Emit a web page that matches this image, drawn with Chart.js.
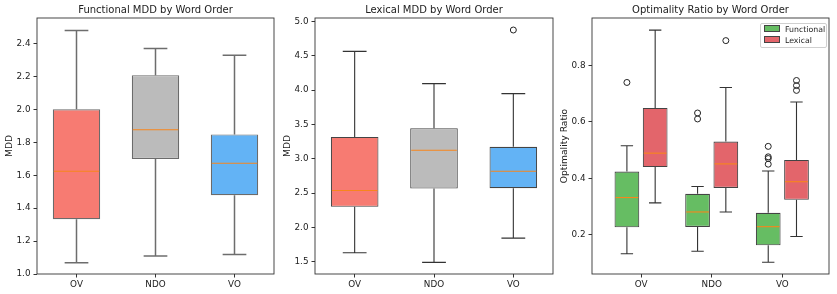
<!DOCTYPE html>
<html>
<head>
<meta charset="utf-8">
<script src="https://cdn.jsdelivr.net/npm/chart.js@4.4.1/dist/chart.umd.min.js"></script>
<style>
  body { margin: 0; background: #fff; width: 837px; height: 294px; position: relative; overflow: hidden; font-family: 'DejaVu Sans', sans-serif; }
  canvas { position: absolute; top: 0; }
  .legend { position: absolute; left: 760px; top: 23px; width: 62px; height: 21px; padding: 1px 0 1px 3px; border: 1px solid #d0d0d0; border-radius: 2px; background: rgba(255,255,255,0.85); font-size: 7.8px; color: #222; }
  .legend div { height: 10.5px; line-height: 10.5px; white-space: nowrap; }
  .legend span.sw { display: inline-block; width: 14px; height: 5px; border: 1px solid #444; margin-right: 5px; vertical-align: 0px; }
</style>
</head>
<body>
<canvas id="fnChart"></canvas>
<canvas id="lexChart"></canvas>
<canvas id="optChart"></canvas>
<div class="legend">
  <div><span class="sw" style="background:#66bd63"></span>Functional</div>
  <div><span class="sw" style="background:#e3656b"></span>Lexical</div>
</div>
<script>
const wordOrders = ['OV', 'NDO', 'VO'];

// Functional MDD
const funcLow = [1.068, 1.109, 1.119];
const funcQ1 = [1.333, 1.699, 1.479];
const funcMed = [1.624, 1.876, 1.673];
const funcQ3 = [2.0, 2.208, 1.848];
const funcHigh = [2.479, 2.37, 2.329];

// Lexical MDD
const lexLow = [1.631, 1.49, 1.843];
const lexQ1 = [2.30, 2.566, 2.571];
const lexMed = [2.537, 3.124, 2.818];
const lexQ3 = [3.318, 3.444, 3.173];
const lexHigh = [4.564, 4.094, 3.948];
const lexOutliers = [[], [], [4.875]];

// Optimality ratio
const optFuncLow = [0.133, 0.142, 0.103];
const optFuncQ1 = [0.227, 0.228, 0.163];
const optFuncMed = [0.332, 0.281, 0.229];
const optFuncQ3 = [0.424, 0.345, 0.278];
const optFuncHigh = [0.515, 0.371, 0.426];
const optFuncOutliers = [[0.739], [0.61, 0.631], [0.45, 0.47, 0.476, 0.513]];
const optLexLow = [0.313, 0.281, 0.194];
const optLexQ1 = [0.44, 0.366, 0.324];
const optLexMed = [0.489, 0.451, 0.388];
const optLexQ3 = [0.649, 0.53, 0.465];
const optLexHigh = [0.924, 0.721, 0.67];
const optLexOutliers = [[], [0.887], [0.711, 0.728, 0.746]];

const orderColors = ['#f77b72', '#bbbbbb', '#63b3f5'];
const Y_AXIS_W = 37;

// whiskers under the boxes, medians + frame on top
function boxLayer(sets, whiskColor, whiskWidth) {
  return {
    id: 'boxLayer',
    beforeDatasetsDraw(chart) {
      const ctx = chart.ctx, y = chart.scales.y;
      ctx.save();
      ctx.strokeStyle = whiskColor;
      ctx.lineWidth = whiskWidth;
      sets.forEach(s => {
        chart.getDatasetMeta(s.index).data.forEach((bar, i) => {
          const { x, width } = bar.getProps(['x', 'width'], true);
          const lo = y.getPixelForValue(s.low[i]), hi = y.getPixelForValue(s.high[i]);
          const q1 = y.getPixelForValue(s.q1[i]), q3 = y.getPixelForValue(s.q3[i]);
          ctx.beginPath();
          ctx.moveTo(x, q3); ctx.lineTo(x, hi);
          ctx.moveTo(x - width / 4, hi); ctx.lineTo(x + width / 4, hi);
          ctx.moveTo(x, q1); ctx.lineTo(x, lo);
          ctx.moveTo(x - width / 4, lo); ctx.lineTo(x + width / 4, lo);
          ctx.stroke();
        });
      });
      ctx.restore();
    },
    afterDatasetsDraw(chart) {
      const ctx = chart.ctx, y = chart.scales.y;
      ctx.save();
      ctx.strokeStyle = '#f7861c';
      ctx.lineWidth = 1.1;
      sets.forEach(s => {
        chart.getDatasetMeta(s.index).data.forEach((bar, i) => {
          const { x, width } = bar.getProps(['x', 'width'], true);
          const m = y.getPixelForValue(s.med[i]);
          ctx.beginPath();
          ctx.moveTo(x - width / 2 + 1, m); ctx.lineTo(x + width / 2 - 1, m);
          ctx.stroke();
        });
      });
      const a = chart.chartArea;
      ctx.strokeStyle = '#333';
      ctx.lineWidth = 0.9;
      ctx.strokeRect(a.left, a.top, a.right - a.left, a.bottom - a.top);
      ctx.restore();
    }
  };
}

function boxData(pos, q1, q3) {
  return pos.map((p, i) => ({ x: p, y: [q1[i], q3[i]] }));
}

function outlierData(pos, outs) {
  const pts = [];
  outs.forEach((list, i) => list.forEach(v => pts.push({ x: pos[i], y: v })));
  return pts;
}

function outlierSet(pos, outs) {
  return {
    type: 'line', showLine: false, data: outlierData(pos, outs),
    pointRadius: 3, pointBorderWidth: 1, pointBorderColor: '#222', pointBackgroundColor: 'rgba(0,0,0,0)'
  };
}

function makePanel(id, left, right, cfg) {
  const canvas = document.getElementById(id);
  canvas.width = Y_AXIS_W + (right - left) + 2;
  canvas.height = 294;
  canvas.style.left = (left - Y_AXIS_W) + 'px';
  return new Chart(canvas, {
    type: 'bar',
    data: { datasets: cfg.datasets },
    options: {
      responsive: false,
      animation: false,
      devicePixelRatio: 1,
      events: [],
      layout: { padding: { left: 0, right: 2, top: 0, bottom: 0 }, autoPadding: false },
      plugins: {
        legend: { display: false },
        tooltip: { enabled: false },
        title: {
          display: true, text: cfg.title, fullSize: false, color: '#222',
          font: { family: 'DejaVu Sans', size: 10, weight: 'normal', lineHeight: 1 },
          padding: { top: 5, bottom: 3 }
        }
      },
      scales: {
        x: {
          type: 'linear', min: cfg.xMin, max: cfg.xMax, offset: false,
          afterBuildTicks: s => { s.ticks = wordOrders.map((_, i) => ({ value: i + 1 })); },
          afterFit: s => { s.height = 20; s.paddingLeft = 0; s.paddingRight = 0; },
          ticks: {
            callback: v => wordOrders[v - 1], color: '#222', padding: 2, maxRotation: 0,
            font: { family: 'DejaVu Sans', size: 8.8 }
          },
          grid: { display: true, offset: false, drawOnChartArea: false, drawTicks: true, tickLength: 3.5, color: '#333' },
          border: { display: false }
        },
        y: {
          min: cfg.yMin, max: cfg.yMax,
          afterFit: s => { s.width = Y_AXIS_W; s.paddingTop = 0; s.paddingBottom = 0; },
          ticks: {
            stepSize: cfg.step, includeBounds: false, callback: v => v.toFixed(1), color: '#222', padding: 3,
            font: { family: 'DejaVu Sans', size: 8.8 }
          },
          title: {
            display: true, text: cfg.yLabel, color: '#222', padding: { top: 4, bottom: 0 },
            font: { family: 'DejaVu Sans', size: 9.2 }
          },
          grid: { display: true, drawOnChartArea: false, drawTicks: true, tickLength: 3.5, color: '#333' },
          border: { display: false }
        }
      }
    },
    plugins: [boxLayer(cfg.sets, cfg.whiskColor, cfg.whiskWidth)]
  });
}

const centers = [1, 2, 3];
const funcPos = [0.8, 1.8, 2.8];
const lexPos = [1.2, 2.2, 3.2];

makePanel('fnChart', 37, 274, {
  title: 'Functional MDD by Word Order', yLabel: 'MDD',
  xMin: 0.5, xMax: 3.5, yMin: 1.0, yMax: 2.555, step: 0.2,
  whiskColor: 'rgba(60,60,60,0.75)', whiskWidth: 1.5,
  datasets: [{
    data: boxData(centers, funcQ1, funcQ3), backgroundColor: orderColors,
    borderColor: 'rgba(70,70,70,0.8)', borderWidth: 1.2, borderSkipped: false,
    barPercentage: 0.6, categoryPercentage: 1, grouped: false
  }],
  sets: [{ index: 0, low: funcLow, q1: funcQ1, med: funcMed, q3: funcQ3, high: funcHigh }]
});

makePanel('lexChart', 315, 553, {
  title: 'Lexical MDD by Word Order', yLabel: 'MDD',
  xMin: 0.5, xMax: 3.5, yMin: 1.321, yMax: 5.05, step: 0.5,
  whiskColor: '#333', whiskWidth: 1.1,
  datasets: [{
    data: boxData(centers, lexQ1, lexQ3), backgroundColor: orderColors,
    borderColor: '#444', borderWidth: 1.1, borderSkipped: false,
    barPercentage: 0.6, categoryPercentage: 1, grouped: false
  }, outlierSet(centers, lexOutliers)],
  sets: [{ index: 0, low: lexLow, q1: lexQ1, med: lexMed, q3: lexQ3, high: lexHigh }]
});

makePanel('optChart', 592, 829, {
  title: 'Optimality Ratio by Word Order', yLabel: 'Optimality Ratio',
  xMin: 0.306, xMax: 3.66, yMin: 0.0616, yMax: 0.967, step: 0.2,
  whiskColor: '#333', whiskWidth: 1.1,
  datasets: [{
    data: boxData(funcPos, optFuncQ1, optFuncQ3), backgroundColor: '#66bd63',
    borderColor: '#444', borderWidth: 1.1, borderSkipped: false,
    barPercentage: 0.875, categoryPercentage: 1, grouped: false
  }, {
    data: boxData(lexPos, optLexQ1, optLexQ3), backgroundColor: '#e3656b',
    borderColor: '#444', borderWidth: 1.1, borderSkipped: false,
    barPercentage: 0.875, categoryPercentage: 1, grouped: false
  }, outlierSet(funcPos, optFuncOutliers), outlierSet(lexPos, optLexOutliers)],
  sets: [
    { index: 0, low: optFuncLow, q1: optFuncQ1, med: optFuncMed, q3: optFuncQ3, high: optFuncHigh },
    { index: 1, low: optLexLow, q1: optLexQ1, med: optLexMed, q3: optLexQ3, high: optLexHigh }
  ]
});
</script>
</body>
</html>
